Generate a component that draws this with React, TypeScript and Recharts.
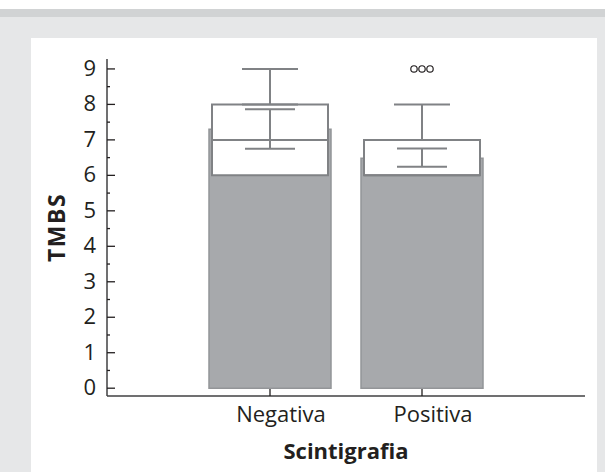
import React from 'react';
import { ComposedChart, Bar, Scatter, ErrorBar, XAxis, YAxis } from 'recharts';

const categories = ['Negativa', 'Positiva'];
const meanValues = [7.3, 6.48];
const ciLowValues = [6.75, 6.24];
const ciHighValues = [7.86, 6.76];
const q1Values = [6, 6];
const medianValues = [7, 6];
const q3Values = [8, 7];
const maxValues = [9, 8];
const outlierCategories = ['Positiva'];
const outlierValues = [9];
const outlierCounts = [3];
const yTicks = [0, 0.5, 1, 1.5, 2, 2.5, 3, 3.5, 4, 4.5, 5, 5.5, 6, 6.5, 7, 7.5, 8, 8.5, 9];

const data = categories.map((cat, i) => ({
  cat,
  mean: meanValues[i],
  ci: [meanValues[i] - ciLowValues[i], ciHighValues[i] - meanValues[i]],
  box: [q1Values[i], q3Values[i]],
  median: medianValues[i],
  q3: q3Values[i],
  whisker: [0, maxValues[i] - q3Values[i]],
}));

const outlierData = outlierCategories.map((cat, i) => ({ cat, value: outlierValues[i], count: outlierCounts[i] }));

const FONT = "'Open Sans', sans-serif";
const TEXT = '#231f20';
const FRAME = '#414042';
const BOX = '#808285';
const DOMAIN: [number, number] = [-0.22, 9.28];

const YTick = (props: any) => {
  const { x, y, payload } = props;
  const major = Number.isInteger(payload.value);
  return (
    <g>
      <line x1={x} x2={x + (major ? 8 : 3)} y1={y} y2={y} stroke={TEXT} strokeWidth={1.3} />
      {major && (
        <text x={x - 11} y={y + 7} textAnchor="end" fontFamily={FONT} fontSize={22} fill={TEXT}>
          {payload.value}
        </text>
      )}
    </g>
  );
};

const XTick = (props: any) => {
  const { x, y, payload } = props;
  return (
    <g>
      <line x1={x} x2={x} y1={y} y2={y - 7} stroke={TEXT} strokeWidth={1.3} />
      <text x={x + 11} y={y + 26} textAnchor="middle" fontFamily={FONT} fontSize={22} fill={TEXT}>
        {payload.value}
      </text>
    </g>
  );
};

const MedianShape = (p: any) => (
  <line x1={p.cx - 58} x2={p.cx + 58} y1={p.cy} y2={p.cy} stroke={BOX} strokeWidth={2} />
);

const NoShape = () => <g />;

const OutlierShape = (p: any) => {
  const n = p.payload.count;
  const items = [];
  for (let k = 0; k < n; k++) {
    items.push(
      <circle key={k} cx={p.cx + (k - (n - 1) / 2) * 8} cy={p.cy} r={3.2} fill="none" stroke={TEXT} strokeWidth={1.2} />
    );
  }
  return <g>{items}</g>;
};

export default function App() {
  return (
    <div style={{ position: 'absolute', left: 0, top: 0, width: 605, height: 472, background: '#e6e7e8', overflow: 'hidden' }}>
      <div style={{ position: 'absolute', left: 0, top: 0, width: 605, height: 9, background: '#ffffff' }} />
      <div style={{ position: 'absolute', left: 0, top: 9, width: 605, height: 8, background: '#d1d3d4' }} />
      <div style={{ position: 'absolute', left: 31, top: 38, width: 566, height: 434, background: '#ffffff' }} />
      <div style={{ position: 'absolute', left: 0, top: 0 }}>
        <ComposedChart width={605} height={472} data={data} margin={{ top: 59, right: 20, bottom: 16, left: 47 }}>
          <XAxis
            xAxisId="a"
            dataKey="cat"
            type="category"
            allowDuplicatedCategory={false}
            padding={{ left: 87, right: 87 }}
            height={60}
            tickSize={0}
            tickMargin={0}
            tick={<XTick />}
            tickLine={false}
            axisLine={{ stroke: FRAME, strokeWidth: 1.5 }}
            interval={0}
            label={{ value: 'Scintigrafia', position: 'insideBottom', offset: -3, style: { fontFamily: FONT, fontSize: 22, fontWeight: 700, fill: TEXT } }}
          />
          <XAxis xAxisId="b" dataKey="cat" type="category" allowDuplicatedCategory={false} padding={{ left: 87, right: 87 }} hide />
          <XAxis
            xAxisId="top"
            orientation="top"
            dataKey="cat"
            type="category"
            allowDuplicatedCategory={false}
            height={0}
            tick={false}
            tickLine={false}
            axisLine={{ stroke: FRAME, strokeWidth: 1.5 }}
          />
          <YAxis
            domain={DOMAIN}
            type="number"
            ticks={yTicks}
            interval={0}
            width={60}
            tickSize={0}
            tickMargin={0}
            tick={<YTick />}
            tickLine={false}
            allowDataOverflow
            axisLine={{ stroke: FRAME, strokeWidth: 1.5 }}
            label={{ value: 'TMBS', angle: -90, position: 'insideLeft', offset: 10, style: { textAnchor: 'middle', fontFamily: FONT, fontSize: 23, fontWeight: 700, letterSpacing: 1.5, fill: TEXT } }}
          />
          <YAxis
            yAxisId="r"
            orientation="right"
            domain={DOMAIN}
            type="number"
            width={0}
            tick={false}
            tickLine={false}
            axisLine={{ stroke: FRAME, strokeWidth: 1.5 }}
          />
          <Bar xAxisId="a" dataKey="mean" barSize={122} fill="#a7a9ac" stroke="#939598" strokeWidth={1.5} isAnimationActive={false} />
          <Bar xAxisId="b" dataKey="box" barSize={116} fill="#ffffff" stroke={BOX} strokeWidth={2} isAnimationActive={false} />
          <Scatter xAxisId="a" dataKey="q3" shape={<NoShape />} isAnimationActive={false}>
            <ErrorBar dataKey="whisker" direction="y" width={28} stroke={BOX} strokeWidth={2} isAnimationActive={false} />
          </Scatter>
          <Scatter xAxisId="a" dataKey="mean" shape={<NoShape />} isAnimationActive={false}>
            <ErrorBar dataKey="ci" direction="y" width={25} stroke={BOX} strokeWidth={2} isAnimationActive={false} />
          </Scatter>
          <Scatter xAxisId="a" dataKey="median" shape={<MedianShape />} isAnimationActive={false} />
          <Scatter xAxisId="a" data={outlierData} dataKey="value" shape={<OutlierShape />} isAnimationActive={false} />
        </ComposedChart>
      </div>
    </div>
  );
}
